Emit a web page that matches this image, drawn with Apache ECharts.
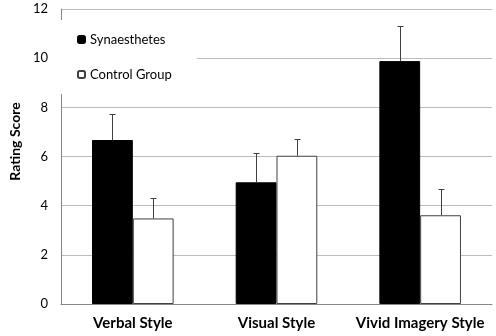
<!DOCTYPE html>
<html>
<head>
<meta charset="utf-8">
<script src="https://cdn.jsdelivr.net/npm/echarts@6/dist/echarts.min.js"></script>
<style>html,body{margin:0;padding:0;background:#fff}#c{width:496px;height:336px}</style>
</head>
<body>
<div id="c"></div>
<script>
const categories = ["Verbal Style", "Visual Style", "Vivid Imagery Style"];
const synMeans = [6.67, 4.95, 9.88];
const synErr = [1.05, 1.18, 1.42];
const ctrlMeans = [3.48, 6.03, 3.61];
const ctrlErr = [0.84, 0.67, 1.08];
const yTicks = [0, 2, 4, 6, 8, 10, 12];

const FONT = "Lato";
const BAR_FRAC = 0.284;

function errSeries(means, errs, side) {
  return {
    type: 'custom',
    z: 5,
    silent: true,
    data: means.map((m, i) => [i, m, m + errs[i]]),
    renderItem: function (params, api) {
      const i = api.value(0);
      const base = api.coord([i, api.value(1)]);
      const top = api.coord([i, api.value(2)]);
      const bw = api.size([1, 0])[0] * BAR_FRAC;
      const x = Math.round(base[0] + side * bw / 2) + 0.5;
      const yt = Math.round(top[1]) + 0.5;
      const style = { stroke: '#404040', lineWidth: 1 };
      return {
        type: 'group',
        children: [
          { type: 'line', shape: { x1: x, y1: base[1], x2: x, y2: yt }, style: style },
          { type: 'line', shape: { x1: x - 3, y1: yt, x2: x + 3, y2: yt }, style: style }
        ]
      };
    }
  };
}

const chart = echarts.init(document.getElementById('c'), null, { renderer: 'canvas' });
chart.setOption({
  animation: false,
  backgroundColor: '#fff',
  textStyle: { fontFamily: FONT },
  grid: { left: 49, right: 4, top: 9, bottom: 32 },
  legend: {
    orient: 'vertical',
    left: 50,
    top: 20,
    padding: [13, 25, 13, 27],
    backgroundColor: '#fff',
    itemWidth: 7,
    itemHeight: 7,
    itemGap: 22,
    z: 10,
    data: ['Synaesthetes', 'Control Group'],
    textStyle: { fontFamily: FONT, fontSize: 13, color: '#000', padding: [0, 0, 0, 0] }
  },
  xAxis: {
    type: 'category',
    data: categories,
    axisLine: { lineStyle: { color: '#868686', width: 1 } },
    axisTick: { show: false },
    axisLabel: { interval: 0, fontFamily: FONT, fontWeight: 'bold', fontSize: 15, color: '#000', margin: 12 }
  },
  yAxis: {
    type: 'value',
    min: yTicks[0],
    max: yTicks[yTicks.length - 1],
    interval: 2,
    name: 'Rating Score',
    nameLocation: 'middle',
    nameGap: 37,
    nameTextStyle: { fontFamily: FONT, fontWeight: 'bold', fontSize: 14, color: '#000', padding: [0, 0, 0, 30] },
    axisLine: { show: true, lineStyle: { color: '#868686', width: 1 } },
    axisTick: { show: false },
    axisLabel: { fontFamily: FONT, fontSize: 13, color: '#000', margin: 13 },
    splitLine: { lineStyle: { color: '#bcbcbc', width: 1 } }
  },
  series: [
    {
      name: 'Synaesthetes',
      type: 'bar',
      data: synMeans,
      barWidth: (BAR_FRAC * 100) + '%',
      barGap: '0%',
      itemStyle: { color: '#000', borderColor: '#000', borderWidth: 1 }
    },
    {
      name: 'Control Group',
      type: 'bar',
      data: ctrlMeans,
      barWidth: (BAR_FRAC * 100) + '%',
      barGap: '0%',
      itemStyle: { color: '#fff', borderColor: '#404040', borderWidth: 1 }
    },
    errSeries(synMeans, synErr, -1),
    errSeries(ctrlMeans, ctrlErr, 1)
  ]
});
</script>
</body>
</html>
